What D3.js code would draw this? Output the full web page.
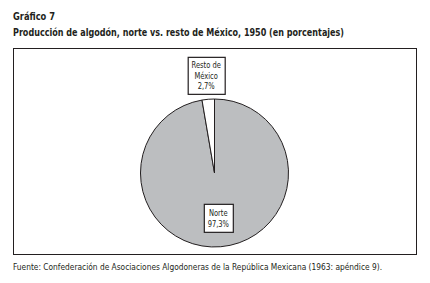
<!DOCTYPE html>
<html>
<head>
<meta charset="utf-8">
<script src="https://cdn.jsdelivr.net/npm/d3@7"></script>
<style>
  body { margin: 0; background: #fff; }
  text { font-family: "DejaVu Sans Condensed", "Liberation Sans Narrow", sans-serif; fill: #231f20; }
</style>
</head>
<body>
<svg id="chart" width="430" height="283"></svg>
<script>
const categories = ["Norte", "Resto de México"];
const labelLines = [["Norte", "97,3%"], ["Resto de", "México", "2,7%"]];
const values = [97.3, 2.7];

const svg = d3.select('#chart');

svg.append('text').attr('x', 13).attr('y', 20)
  .attr('font-size', 10.5).attr('font-weight', 'bold')
  .attr('textLength', 42).attr('lengthAdjust', 'spacingAndGlyphs')
  .text('Gráfico 7');
svg.append('text').attr('x', 13).attr('y', 36)
  .attr('font-size', 10.5).attr('font-weight', 'bold')
  .attr('textLength', 331).attr('lengthAdjust', 'spacingAndGlyphs')
  .text('Producción de algodón, norte vs. resto de México, 1950 (en porcentajes)');

svg.append('rect')
  .attr('x', 13.5).attr('y', 48.5).attr('width', 403).attr('height', 206)
  .attr('fill', 'none').attr('stroke', '#231f20').attr('stroke-width', 1);

svg.append('text').attr('x', 13).attr('y', 270)
  .attr('font-size', 8.5)
  .attr('textLength', 369).attr('lengthAdjust', 'spacingAndGlyphs')
  .text('Fuente: Confederación de Asociaciones Algodoneras de la República Mexicana (1963: apéndice 9).');

const cx = 214.5, cy = 173, radius = 74;
const fillScale = d3.scaleOrdinal().domain(categories).range(["#bcbec0", "#ffffff"]);

const pie = d3.pie().sort(null).value(d => d.value);
const arcs = pie(categories.map((c, i) => ({ name: c, value: values[i], lines: labelLines[i] })));
const arc = d3.arc().innerRadius(0).outerRadius(radius);

const g = svg.append('g').attr('transform', `translate(${cx}, ${cy})`);

g.selectAll('path')
  .data(arcs)
  .join('path')
  .attr('d', arc)
  .attr('fill', d => fillScale(d.data.name))
  .attr('stroke', '#231f20')
  .attr('stroke-width', 1);

// labels: Norte inside, resto above the pie
const labelRadius = [45, 98];
const boxSize = [[29, 28], [37, 37]];

arcs.forEach((d, i) => {
  const la = d3.arc().innerRadius(labelRadius[i]).outerRadius(labelRadius[i]);
  const [lx, ly] = la.centroid(d);
  const [w, h] = boxSize[i];
  const lg = g.append('g').attr('transform', `translate(${lx}, ${ly})`);
  lg.append('rect')
    .attr('x', -w / 2 + 0.5).attr('y', -h / 2 + 0.5)
    .attr('width', w).attr('height', h)
    .attr('fill', '#fff').attr('stroke', '#231f20').attr('stroke-width', 1.2);
  const n = d.data.lines.length;
  d.data.lines.forEach((t, j) => {
    lg.append('text')
      .attr('text-anchor', 'middle')
      .attr('x', 0)
      .attr('y', (j - (n - 1) / 2) * 10.5 + 3.5)
      .attr('font-size', 8.5)
      .attr('transform', 'scale(0.88, 1)')
      .text(t);
  });
});
</script>
</body>
</html>
